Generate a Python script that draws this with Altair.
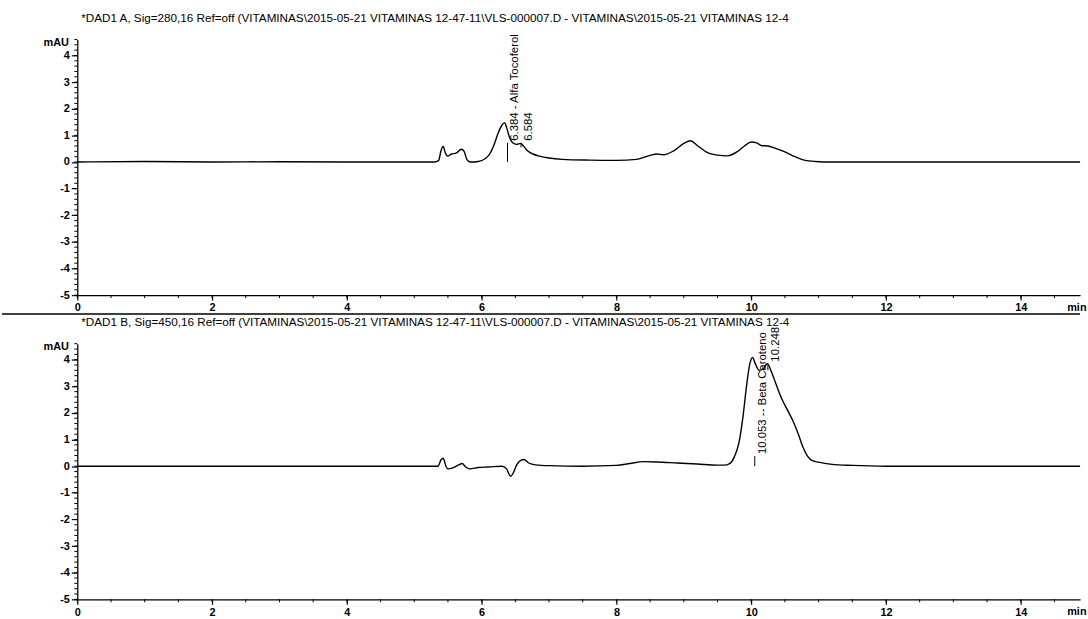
import altair as alt
import pandas as pd

# ---- Signal A (280 nm) ----
time_a = [0.0, 1.0, 2.0, 3.0, 4.0, 5.0, 5.3, 5.36, 5.40, 5.43, 5.46, 5.50, 5.55, 5.62,
          5.70, 5.74, 5.78, 5.83, 5.95, 6.05, 6.12, 6.18, 6.24, 6.30, 6.34, 6.37, 6.41,
          6.46, 6.52, 6.58, 6.62, 6.68, 6.76, 6.86, 7.0, 7.2, 7.6, 8.0, 8.3, 8.5, 8.6,
          8.7, 8.85, 9.0, 9.1, 9.2, 9.35, 9.5, 9.65, 9.8, 9.9, 10.0, 10.08, 10.15, 10.25,
          10.35, 10.5, 10.65, 10.8, 10.95, 11.2, 12.0, 13.0, 14.0, 14.88]
mau_a = [0.0, 0.02, 0.0, 0.01, 0.0, 0.0, 0.0, 0.05, 0.45, 0.58, 0.35, 0.22, 0.30, 0.33,
         0.48, 0.40, 0.10, 0.0, 0.02, 0.12, 0.30, 0.62, 1.05, 1.38, 1.48, 1.30, 0.95,
         0.72, 0.66, 0.70, 0.60, 0.42, 0.30, 0.22, 0.15, 0.10, 0.07, 0.06, 0.10, 0.25, 0.30,
         0.27, 0.42, 0.70, 0.80, 0.62, 0.35, 0.26, 0.23, 0.40, 0.60, 0.75, 0.72, 0.62, 0.60,
         0.52, 0.38, 0.20, 0.06, 0.02, 0.0, 0.0, 0.0, 0.0, 0.0]

# ---- Signal B (450 nm) ----
time_b = [0.0, 5.35, 5.40, 5.43, 5.47, 5.50, 5.58, 5.66, 5.71, 5.76, 5.82, 5.95, 6.1,
          6.3, 6.37, 6.43, 6.47, 6.52, 6.58, 6.63, 6.7, 6.8, 7.0, 7.5, 8.0, 8.2, 8.4, 8.6,
          8.9, 9.2, 9.5, 9.6, 9.68, 9.75, 9.82, 9.88, 9.93, 9.98, 10.02, 10.06, 10.12,
          10.18, 10.24, 10.3, 10.38, 10.45, 10.55, 10.62, 10.7, 10.77, 10.83, 10.9, 11.0,
          11.2, 11.5, 12.0, 14.88]
mau_b = [0.0, 0.0, 0.25, 0.30, 0.0, -0.10, -0.05, 0.05, 0.10, -0.02, -0.10, -0.05, -0.03,
         0.0, -0.10, -0.38, -0.25, 0.05, 0.22, 0.25, 0.12, 0.05, 0.02, 0.0, 0.03, 0.10, 0.17,
         0.16, 0.12, 0.08, 0.04, 0.04, 0.10, 0.35, 0.90, 1.90, 3.00, 3.85, 4.08, 3.85, 3.60,
         3.65, 3.85, 3.55, 3.00, 2.55, 2.05, 1.70, 1.20, 0.70, 0.40, 0.22, 0.15,
         0.07, 0.03, 0.0, 0.0]

# ---- Peak annotations ----
peak_a_time = [6.384, 6.584]
peak_a_text = ["6.384 - Alfa Tocoferol", "6.584"]
peak_a_tick_from = [0.0, 0.55]
peak_a_text_at = [0.72, 0.72]

peak_b_time = [10.053, 10.248]
peak_b_text = ["10.053 -- Beta Caroteno", "10.248"]
peak_b_tick_from = [0.0, 3.6]
peak_b_text_at = [0.38, 3.85]

title_a = "*DAD1 A, Sig=280,16 Ref=off (VITAMINAS\\2015-05-21 VITAMINAS 12-47-11\\VLS-000007.D - VITAMINAS\\2015-05-21 VITAMINAS 12-4"
title_b = "*DAD1 B, Sig=450,16 Ref=off (VITAMINAS\\2015-05-21 VITAMINAS 12-47-11\\VLS-000007.D - VITAMINAS\\2015-05-21 VITAMINAS 12-4"

# ---- Axis ticks ----
x_major = [0, 2, 4, 6, 8, 10, 12, 14]
x_minor = [round(i * 0.5, 1) for i in range(0, 30)]
y_major = [-5, -4, -3, -2, -1, 0, 1, 2, 3, 4]
y_minor = [round(-5 + i * 0.2, 1) for i in range(0, 49)]

X_MAX = 14.88
Y_DOMAIN = [-5, 4.6]
W, H = 1012, 258
FONT = "Liberation Sans"

x_scale = alt.Scale(domain=[0, X_MAX], nice=False, zero=False)
y_scale = alt.Scale(domain=Y_DOMAIN, nice=False, zero=False)

# plain hyphen for negative tick labels
PLAIN_LABEL = "'' + datum.value"

x_axis = alt.Axis(
    values=x_major, labelExpr=PLAIN_LABEL, title=None, grid=False, tickSize=5,
    labelOverlap=False, labelFlush=False, labelPadding=2,
    labelFont=FONT, labelFontSize=11, labelFontWeight="bold", labelColor="black",
    domainColor="black", tickColor="black", domainWidth=1.3, tickWidth=1.2,
)
y_axis = alt.Axis(
    values=y_major, labelExpr=PLAIN_LABEL, grid=False, tickSize=6,
    title="mAU", titleAngle=0, titleAlign="right", titleBaseline="middle",
    titleX=-9, titleY=3,
    titleFont=FONT, titleFontSize=11, titleFontWeight="bold", titleColor="black",
    labelOverlap=False, labelFlush=False, labelPadding=2,
    labelFont=FONT, labelFontSize=11, labelFontWeight="bold", labelColor="black",
    domainColor="black", tickColor="black", domainWidth=1.3, tickWidth=1.2,
)


def panel(times, values, p_time, p_text, p_from, p_at, title, separator):
    trace = pd.DataFrame({"t": times, "v": values})
    peaks = pd.DataFrame({"t": p_time, "label": p_text, "y0": p_from, "y1": p_at})
    xm = pd.DataFrame({"t": x_minor})
    ym = pd.DataFrame({"v": y_minor})
    one = pd.DataFrame({"title": [title], "unit": ["min"]})

    # every layer that places a field on x or y carries the same axis definition
    X = lambda f: alt.X(f, scale=x_scale, axis=x_axis)
    Y = lambda f: alt.Y(f, scale=y_scale, axis=y_axis)

    line = alt.Chart(trace).mark_line(
        color="black", strokeWidth=1.4, interpolate="monotone"
    ).encode(x=X("t:Q"), y=Y("v:Q"))
    x_small = alt.Chart(xm).mark_rule(color="black", strokeWidth=1).encode(
        x=X("t:Q"), y=alt.value(H), y2=alt.value(H + 3),
    )
    y_small = alt.Chart(ym).mark_rule(color="black", strokeWidth=1).encode(
        y=Y("v:Q"), x=alt.value(-3), x2=alt.value(0),
    )
    ticks = alt.Chart(peaks).mark_rule(color="black", strokeWidth=1).encode(
        x=X("t:Q"), y=Y("y0:Q"), y2="y1:Q",
    )
    labels = alt.Chart(peaks).mark_text(
        angle=270, align="left", baseline="top", dx=2, dy=2,
        font=FONT, fontSize=11.5, color="black",
    ).encode(x=X("t:Q"), y=Y("y1:Q"), text="label:N")
    head = alt.Chart(one).mark_text(
        align="left", baseline="middle", font=FONT, fontSize=11.8, color="black",
    ).encode(x=alt.value(4), y=alt.value(-22), text="title:N")
    unit = alt.Chart(one).mark_text(
        align="left", baseline="top", font=FONT, fontSize=11,
        fontWeight="bold", color="black",
    ).encode(x=alt.value(W - 13), y=alt.value(H + 7), text="unit:N")

    layers = [line, x_small, y_small, ticks, labels, head, unit]
    if separator:
        sep = alt.Chart(one).mark_rule(color="black", strokeWidth=1.4).encode(
            x=alt.value(-76), x2=alt.value(W), y=alt.value(H + 19)
        )
        layers.append(sep)

    return alt.layer(*layers).properties(width=W, height=H)


top = panel(time_a, mau_a, peak_a_time, peak_a_text, peak_a_tick_from, peak_a_text_at,
            title_a, True)
bottom = panel(time_b, mau_b, peak_b_time, peak_b_text, peak_b_tick_from, peak_b_text_at,
               title_b, False)

chart = alt.vconcat(top, bottom, spacing=49, bounds="flush").properties(
    padding={"left": 0, "top": 9, "right": 0, "bottom": 0},
    background="white",
).configure_view(stroke="transparent")

chart.save("out.html", embed_options={"renderer": "svg", "actions": False})
